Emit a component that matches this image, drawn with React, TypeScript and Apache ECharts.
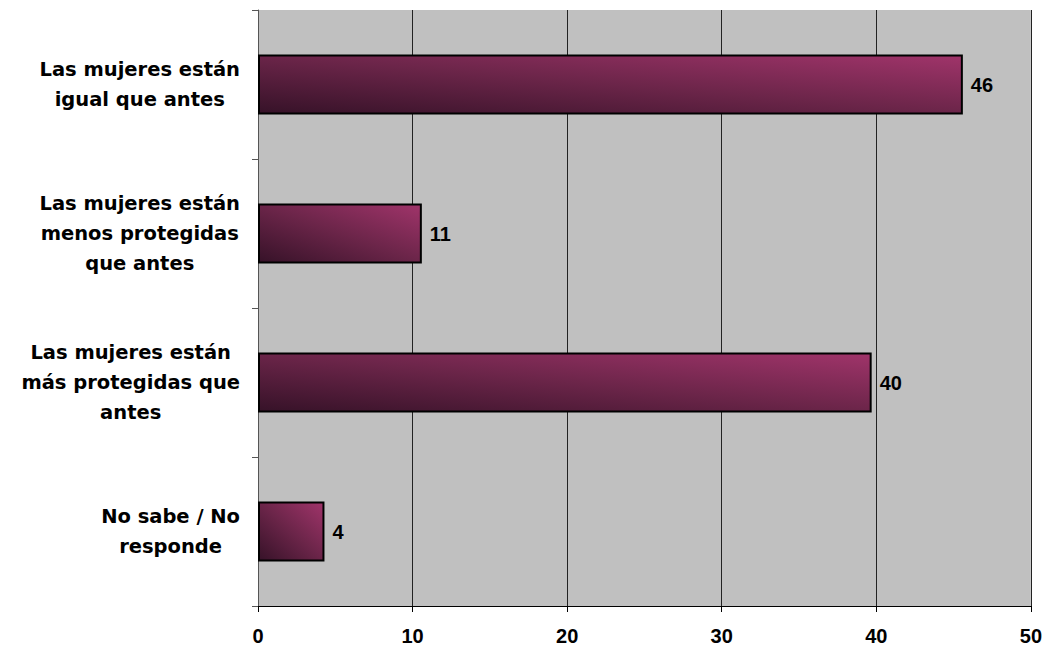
import React, { useEffect, useRef } from "react";
import * as echarts from "echarts";

const categories = [
  "No sabe / No\nresponde",
  "Las mujeres están\nmás protegidas que\nantes",
  "Las mujeres están\nmenos protegidas\nque antes",
  "Las mujeres están\nigual que antes",
];
const values = [4.3, 39.7, 10.6, 45.6];
const valueLabels = ["4", "40", "11", "46"];
const xTicks = [0, 10, 20, 30, 40, 50];

export default function App() {
  const ref = useRef<HTMLDivElement>(null);
  useEffect(() => {
    const chart = echarts.init(ref.current!, null, { renderer: "svg" });
    chart.setOption({
      animation: false,
      grid: {
        left: 258,
        right: 14,
        top: 10,
        bottom: 42,
        show: true,
        backgroundColor: "#c0c0c0",
        borderWidth: 0,
      },
      xAxis: {
        type: "value",
        min: xTicks[0],
        max: xTicks[xTicks.length - 1],
        interval: 10,
        axisLine: { show: true, lineStyle: { color: "#000", width: 1 } },
        axisTick: { show: true, length: 6, lineStyle: { color: "#000" } },
        axisLabel: {
          margin: 20,
          fontFamily: "Liberation Sans, Arial",
          fontWeight: "bold",
          fontSize: 20,
          color: "#000",
        },
        splitLine: { show: true, lineStyle: { color: "#222", width: 1 } },
      },
      yAxis: {
        type: "category",
        data: categories,
        axisLine: { show: true, lineStyle: { color: "#555", width: 1 } },
        axisTick: { show: true, length: 6, lineStyle: { color: "#555" } },
        axisLabel: {
          margin: 18,
          align: "right",
          formatter: (v: string) =>
            v.split("\n").map((l) => "{a|" + l + "}").join("\n"),
          rich: {
            a: {
              align: "center",
              fontFamily: "DejaVu Sans",
              fontWeight: "bold",
              fontSize: 19.5,
              lineHeight: 30,
              color: "#000",
            },
          },
        },
      },
      series: [
        {
          type: "bar",
          data: values,
          barWidth: 60,
          itemStyle: {
            color: new echarts.graphic.LinearGradient(0, 1, 1, 0, [
              { offset: 0, color: "#361228" },
              { offset: 0.5, color: "#6b2549" },
              { offset: 1, color: "#a0346a" },
            ]),
            borderColor: "#000",
            borderWidth: 2,
          },
          label: {
            show: true,
            position: "right",
            distance: 8,
            formatter: (p: any) => valueLabels[p.dataIndex],
            fontFamily: "Liberation Sans, Arial",
            fontWeight: "bold",
            fontSize: 20,
            color: "#000",
          },
        },
      ],
    });
    return () => chart.dispose();
  }, []);
  return <div ref={ref} style={{ width: 1045, height: 648, position: "absolute", left: 0, top: 0 }} />;
}
